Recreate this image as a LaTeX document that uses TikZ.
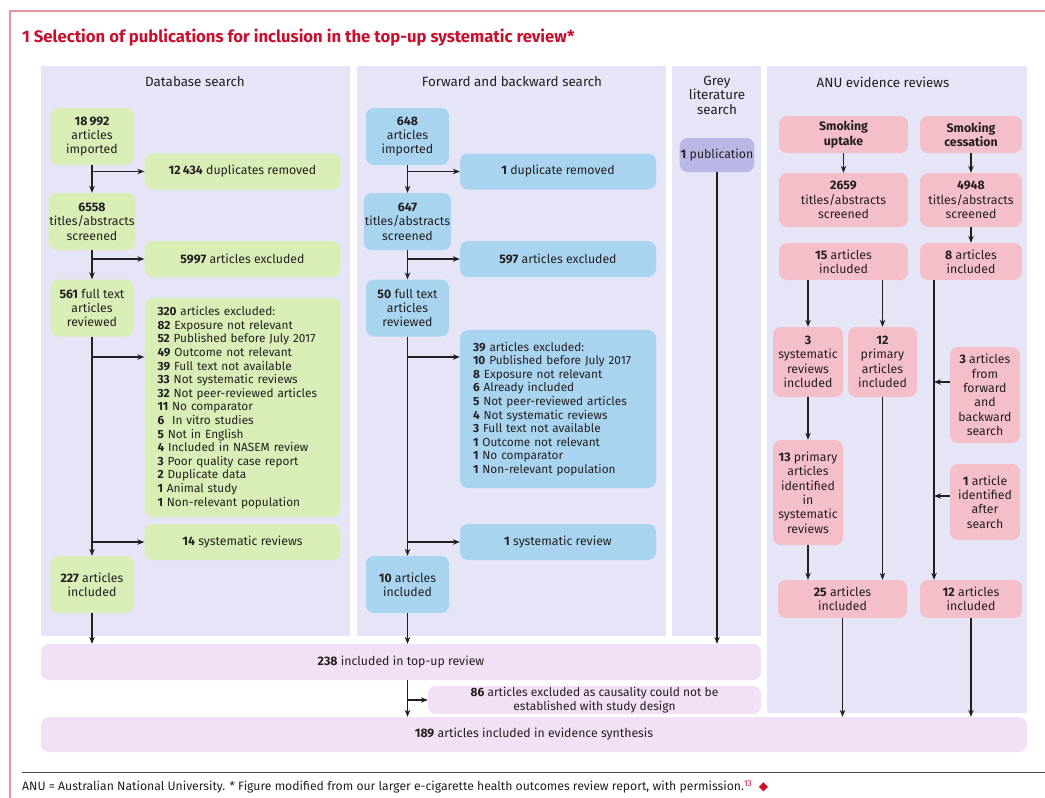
\documentclass[tikz,border=0pt]{standalone}
\usepackage{fontspec}
\setmainfont{Fira Sans}
\newfontfamily\symbolfont{DejaVu Sans}
\usetikzlibrary{arrows.meta,positioning,calc}
\definecolor{RevRed}{HTML}{C8102E}
\definecolor{RevFrame}{HTML}{E8919F}
\definecolor{RevPanel}{HTML}{E5E5F7}
\definecolor{RevGreen}{HTML}{D9EEB6}
\definecolor{RevBlue}{HTML}{A9D4EF}
\definecolor{RevGrey}{HTML}{B9B7E6}
\definecolor{RevPink}{HTML}{F5BFC9}
\definecolor{RevLilac}{HTML}{F2E1F6}
\definecolor{RevInk}{HTML}{231F20}

\begin{document}
\begin{tikzpicture}[x=1pt,y=-1pt,
    font=\fontsize{12.3}{14.4}\selectfont,
    text=RevInk,
    head/.style={align=center, inner sep=0pt, font=\fontsize{13.4}{14.5}\selectfont},
    stage/.style={
      rounded corners=8pt,
      align=center,
      inner sep=1pt
    },
    dbstep/.style={stage, fill=RevGreen},
    fwstep/.style={stage, fill=RevBlue},
    anustep/.style={stage, fill=RevPink},
    mainbox/.style={stage, fill=RevLilac},
    narrow/.style={minimum width=83, minimum height=57},
    wide/.style={minimum width=196, minimum height=36},
    reasons/.style={
      align=left,
      inner xsep=13pt,
      font=\fontsize{11.8}{13.6}\selectfont
    },
    arrow/.style={
      -{Stealth[length=7pt,width=5.5pt]},
      line width=1.1pt,
      draw=RevInk
    }]

    \useasboundingbox (0,0) rectangle (1045,798);

    % Frame and title
    \draw[RevFrame, line width=1.3pt] (10,798) -- (10,11) -- (1045,11);
    \node[anchor=west, inner sep=0pt, text=RevRed,
          font=\fontsize{16.7}{19}\selectfont\bfseries] (title) at (22,38)
      {1~Selection of publications for inclusion in the top-up systematic review*};

    % Column panels
    \fill[RevPanel] (41,66) rectangle (350,636);
    \fill[RevPanel] (357,66) rectangle (666,636);
    \fill[RevPanel] (672,66) rectangle (761,636);
    \fill[RevPanel] (767,66) rectangle (1027,713);

    \node[head] (dbhead) at (195,82) {Database search};
    \node[head] (fwhead) at (512,82) {Forward and backward search};
    \node[head] (greyhead) at (717,95) {Grey\\literature\\search};
    \node[head] (anuhead) at (883,82) {ANU evidence reviews};

    % Column 1: Database search
    \node[dbstep, narrow] (db1) at (92,136.5) {\textbf{18\,992}\\articles\\imported};
    \node[dbstep, wide] (db2) at (242.5,171.5) {\textbf{12\,434} duplicates removed};
    \node[dbstep, narrow] (db3) at (92,221.5) {\textbf{6558}\\titles/abstracts\\screened};
    \node[dbstep, wide] (db4) at (242.5,259) {\textbf{5997} articles excluded};
    \node[dbstep, narrow] (db5) at (92,308) {\textbf{561} full text\\articles\\reviewed};
    \node[dbstep, reasons, minimum width=196, minimum height=219, text width=170] (db6) at (242.5,407.5) {
      \textbf{320} articles excluded:\\
      \textbf{82} Exposure not relevant\\
      \textbf{52} Published before July 2017\\
      \textbf{49} Outcome not relevant\\
      \textbf{39} Full text not available\\
      \textbf{33} Not systematic reviews\\
      \textbf{32} Not peer-reviewed articles\\
      \textbf{11} No comparator\\
      \textbf{6}\ \ In vitro studies\\
      \textbf{5} Not in English\\
      \textbf{4} Included in NASEM review\\
      \textbf{3} Poor quality case report\\
      \textbf{2} Duplicate data\\
      \textbf{1} Animal study\\
      \textbf{1} Non-relevant population};
    \node[dbstep, wide] (db7) at (242.5,542) {\textbf{14} systematic reviews};
    \node[dbstep, narrow] (db8) at (92,584.5) {\textbf{227} articles\\included};

    % Column 2: Forward and backward search
    \node[fwstep, narrow] (fw1) at (407.5,136.5) {\textbf{648}\\articles\\imported};
    \node[fwstep, wide] (fw2) at (558,171.5) {\textbf{1} duplicate removed};
    \node[fwstep, narrow] (fw3) at (407.5,221.5) {\textbf{647}\\titles/abstracts\\screened};
    \node[fwstep, wide] (fw4) at (558,259) {\textbf{597} articles excluded};
    \node[fwstep, narrow] (fw5) at (407.5,308) {\textbf{50} full text\\articles\\reviewed};
    \node[fwstep, reasons, minimum width=196, minimum height=158, text width=170] (fw6) at (558,409) {
      \textbf{39} articles excluded:\\
      \textbf{10} Published before July 2017\\
      \textbf{8} Exposure not relevant\\
      \textbf{6} Already included\\
      \textbf{5} Not peer-reviewed articles\\
      \textbf{4} Not systematic reviews\\
      \textbf{3} Full text not available\\
      \textbf{1} Outcome not relevant\\
      \textbf{1} No comparator\\
      \textbf{1} Non-relevant population};
    \node[fwstep, wide] (fw7) at (558,542) {\textbf{1} systematic review};
    \node[fwstep, narrow] (fw8) at (407.5,584.5) {\textbf{10} articles\\included};

    % Column 3: Grey literature
    \node[stage, fill=RevGrey, minimum width=74, minimum height=34] (grey1) at (717,155) {\textbf{1} publication};

    % Column 4: ANU evidence reviews
    \node[anustep, minimum width=129, minimum height=37] (anu1) at (843.5,134.5) {\textbf{Smoking}\\\textbf{uptake}};
    \node[anustep, minimum width=102, minimum height=37] (anu2) at (971,134.5) {\textbf{Smoking}\\\textbf{cessation}};
    \node[anustep, minimum width=129, minimum height=54] (anu3) at (843.5,200) {\textbf{2659}\\titles/abstracts\\screened};
    \node[anustep, minimum width=102, minimum height=54] (anu4) at (971,200) {\textbf{4948}\\titles/abstracts\\screened};
    \node[anustep, minimum width=129, minimum height=37] (anu5) at (843.5,261.5) {\textbf{15} articles\\included};
    \node[anustep, minimum width=102, minimum height=37] (anu6) at (971,261.5) {\textbf{8} articles\\included};
    \node[anustep, minimum width=70, minimum height=70] (anu7) at (808,362) {\textbf{3}\\systematic\\reviews\\included};
    \node[anustep, minimum width=69, minimum height=70] (anu8) at (882.5,362) {\textbf{12}\\primary\\articles\\included};
    \node[anustep, minimum width=70, minimum height=105] (anu9) at (808,492.5) {\textbf{13} primary\\articles\\identified\\in\\systematic\\reviews};
    \node[anustep, minimum width=70, minimum height=96] (anu10) at (985,395) {\textbf{3} articles\\from\\forward\\and\\backward\\search};
    \node[anustep, minimum width=70, minimum height=76] (anu11) at (985,502) {\textbf{1} article\\identified\\after\\search};
    \node[anustep, minimum width=129, minimum height=38] (anu12) at (842.5,599) {\textbf{25} articles\\included};
    \node[anustep, minimum width=102, minimum height=38] (anu13) at (971,599) {\textbf{12} articles\\included};

    % Summary boxes
    \node[mainbox, minimum width=720, minimum height=36] (topup) at (401,662) {\textbf{238} included in top-up review};
    \node[mainbox, minimum width=333, minimum height=28, inner sep=0pt,
          font=\fontsize{12}{14}\selectfont] (causal) at (594.5,700)
      {\textbf{86} articles excluded as causality could not be\\established with study design};
    \node[mainbox, minimum width=986, minimum height=35] (synth) at (534,734.5) {\textbf{189} articles included in evidence synthesis};

    % Flow arrows, database search
    \coordinate (cut) at (0,357);
    \draw[arrow] (db1) -- (db3);
    \draw[arrow] (db1.south |- db2.west) -- (db2.west);
    \draw[arrow] (db3) -- (db5);
    \draw[arrow] (db3.south |- db4.west) -- (db4.west);
    \draw[arrow] (db5) -- (db8);
    \draw[arrow] (db5.south |- cut) -- (db6.west |- cut);
    \draw[arrow] (db5.south |- db7.west) -- (db7.west);
    \draw[arrow] (db8) -- (db8.south |- topup.north);

    % Flow arrows, forward and backward search
    \draw[arrow] (fw1) -- (fw3);
    \draw[arrow] (fw1.south |- fw2.west) -- (fw2.west);
    \draw[arrow] (fw3) -- (fw5);
    \draw[arrow] (fw3.south |- fw4.west) -- (fw4.west);
    \draw[arrow] (fw5) -- (fw8);
    \draw[arrow] (fw5.south |- cut) -- (fw6.west |- cut);
    \draw[arrow] (fw5.south |- fw7.west) -- (fw7.west);
    \draw[arrow] (fw8) -- (fw8.south |- topup.north);

    % Grey literature
    \draw[arrow] (grey1) -- (grey1.south |- topup.north);

    % ANU evidence reviews
    \coordinate (spine) at (934,0);
    \draw[arrow] (anu1) -- (anu3);
    \draw[arrow] (anu2) -- (anu4);
    \draw[arrow] (anu4) -- (anu6);
    \draw[arrow] (anu7.north |- anu5.south) -- (anu7.north);
    \draw[arrow] (anu8.north |- anu5.south) -- (anu8.north);
    \draw[arrow] (anu7) -- (anu9);
    \draw[arrow] (anu9.south) -- (anu9.south |- anu12.north);
    \draw[arrow] (anu8.south) -- (anu8.south |- anu12.north);
    \draw[arrow] (anu6.south -| spine) -- (anu13.north -| spine);
    \draw[arrow] ([yshift=13pt]anu10.west) -- ([yshift=13pt]anu10.west -| spine);
    \draw[arrow] ([yshift=6pt]anu11.west) -- ([yshift=6pt]anu11.west -| spine);
    \draw[arrow] (anu12) -- (anu12.south |- synth.north);
    \draw[arrow] (anu13) -- (anu13.south |- synth.north);

    % Top-up review to synthesis
    \draw[arrow] (fw8.south |- topup.south) -- (fw8.south |- synth.north);
    \draw[arrow] (fw8.south |- causal.west) -- (causal.west);

    % Footnote
    \draw[RevInk!80, line width=1pt] (22,772) -- (1045,772);
    \node[anchor=west, inner sep=0pt, font=\fontsize{12.2}{13}\selectfont] (note) at (22,787)
      {ANU = Australian National University. * Figure modified from our larger e-cigarette health outcomes review report, with permission.\textsuperscript{\textcolor{RevRed}{13}}\ \ \textcolor{RevRed}{\symbolfont ◆}};
  \end{tikzpicture}
\end{document}
